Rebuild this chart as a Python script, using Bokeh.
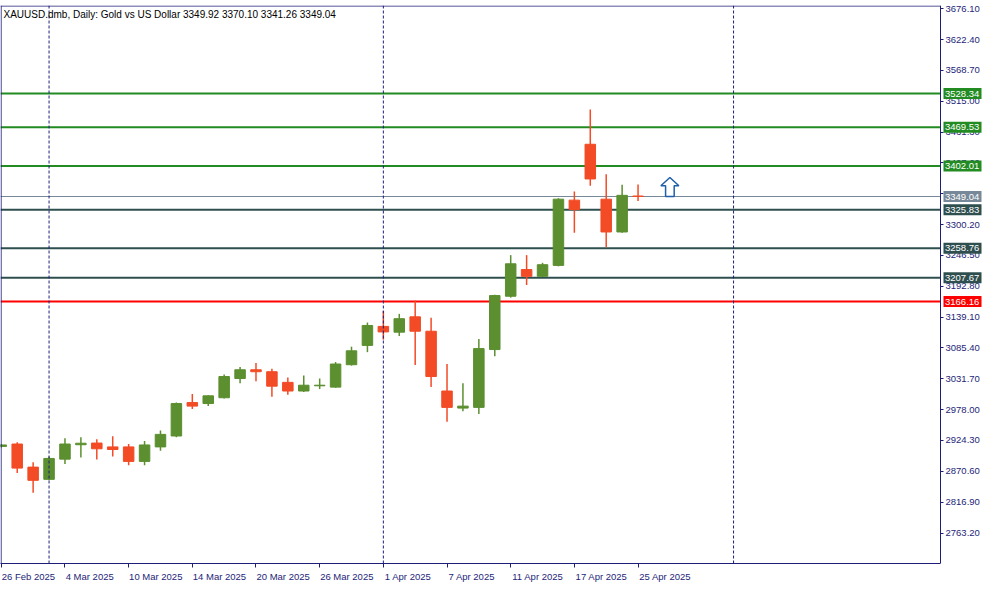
from bokeh.plotting import figure
from bokeh.models import (Range1d, FixedTicker, Span, Label, ColumnDataSource, LinearAxis,
                          NumeralTickFormatter, CustomJSTickFormatter)
from bokeh.core.properties import value
from bokeh.embed import file_html
from bokeh.resources import INLINE

# ---------------- data ----------------
title_text = "XAUUSD.dmb, Daily:  Gold vs US Dollar  3349.92 3370.10 3341.26 3349.04"

opens = [2914.0, 2918.1, 2877.9, 2856.6, 2891.8, 2916.9, 2919.8, 2913.1, 2913.1, 2887.9,
         2913.1, 2932.1, 2990.3, 2988.6, 2998.7, 3032.2, 3047.4, 3044.0, 3025.5, 3010.4,
         3019.5, 3017.2, 3056.2, 3089.8, 3122.9, 3112.8, 3139.6, 3114.5, 3010.4, 2980.7,
         2981.9, 3082.6, 3175.4, 3221.9, 3210.1, 3229.1, 3342.7, 3440.0, 3344.4, 3287.3,
         3349.92]
highs = [2918.0, 2921.0, 2886.3, 2896.4, 2928.2, 2929.9, 2926.5, 2931.6, 2918.1, 2923.2,
         2941.6, 2990.3, 3005.4, 3003.0, 3039.0, 3052.4, 3059.1, 3049.0, 3033.9, 3037.3,
         3032.2, 3060.8, 3087.6, 3129.6, 3149.7, 3144.7, 3168.2, 3138.0, 3057.4, 3023.9,
         3101.0, 3178.0, 3247.0, 3247.0, 3233.6, 3346.0, 3357.8, 3500.4, 3388.0, 3369.5,
         3370.10]
lows = [2912.0, 2867.8, 2833.1, 2855.0, 2883.4, 2894.7, 2891.3, 2896.3, 2881.2, 2881.2,
        2906.4, 2930.0, 2979.1, 2984.1, 2997.5, 3023.9, 3027.2, 3000.4, 3003.7, 3008.7,
        3013.8, 3016.0, 3054.6, 3078.1, 3099.9, 3106.1, 3055.7, 3017.2, 2957.0, 2975.2,
        2970.2, 3070.8, 3173.0, 3195.0, 3209.0, 3227.5, 3286.1, 3367.9, 3260.5, 3286.0,
        3341.26]
closes = [2916.5, 2876.2, 2854.9, 2893.0, 2918.1, 2919.5, 2909.8, 2908.6, 2887.9, 2916.5,
          2934.9, 2988.6, 2984.1, 3002.0, 3035.6, 3047.4, 3044.0, 3018.8, 3010.4, 3020.5,
          3020.5, 3057.4, 3080.4, 3124.5, 3113.3, 3136.3, 3114.5, 3035.6, 2981.9, 2984.1,
          3084.3, 3176.6, 3231.9, 3210.1, 3230.3, 3344.4, 3326.4, 3379.6, 3287.3, 3351.1,
          3349.04]

date_tick_index = [0, 4, 8, 12, 16, 20, 24, 28, 32, 36, 40]
date_tick_labels = ["26 Feb 2025", "4 Mar 2025", "10 Mar 2025", "14 Mar 2025", "20 Mar 2025",
                    "26 Mar 2025", "1 Apr 2025", "7 Apr 2025", "11 Apr 2025", "17 Apr 2025",
                    "25 Apr 2025"]

price_ticks = [3676.10, 3622.40, 3568.70, 3515.00, 3461.30, 3407.60, 3353.90, 3300.20, 3246.50,
               3192.80, 3139.10, 3085.40, 3031.70, 2978.00, 2924.30, 2870.60, 2816.90, 2763.20]

resistance_levels = [3528.34, 3469.53, 3402.01]
support_levels = [3325.83, 3258.76, 3207.67]
key_level = 3166.16
bid_price = 3349.04

period_separators = [3, 24, 46]
arrow_index = 42
arrow_price = 3349.04

# ---------------- style / layout ----------------
FONT = "Liberation Sans"
FSIZE = "9.5px"
NAVY = "#1E1E78"
UP = "#5B8F2F"
DOWN = "#F24B26"
RES_COLOR = "#228B22"
SUP_COLOR = "#2F4F4F"
KEY_COLOR = "#FF0000"
BID_COLOR = "#778899"
ARROW_COLOR = "#1F5FAA"

CHART_W = 940          # width of the candle area in px
FRAME_W, FRAME_H = 984, 558
X0, X1 = -0.05, 59.0   # bar-index span of the candle area
Y0, Y1 = 2710.1, 3681.6
px_per_bar = CHART_W / (X1 - X0)
price_per_px = (Y1 - Y0) / FRAME_H
X_END = X0 + FRAME_W / px_per_bar
EDGE = X1              # right edge of the candle area = price axis position

p = figure(frame_width=FRAME_W, frame_height=FRAME_H,
           x_range=Range1d(X0, X_END), y_range=Range1d(Y0, Y1),
           output_backend="svg", toolbar_location=None,
           x_axis_location="below", y_axis_location=None,
           min_border_left=0, min_border_top=5, min_border_right=0, min_border_bottom=0)
p.background_fill_color = "white"
p.border_fill_color = "white"
p.outline_line_color = None
p.xgrid.visible = False
p.ygrid.visible = False

# price axis, fixed at the right edge of the candle area
ya = LinearAxis(fixed_location=EDGE,
                ticker=FixedTicker(ticks=price_ticks, minor_ticks=[]),
                formatter=NumeralTickFormatter(format="0.00"))
ya.axis_line_color = NAVY
ya.major_tick_line_color = NAVY
ya.major_tick_out = 3
ya.major_tick_in = 0
ya.minor_tick_out = 0
ya.minor_tick_in = 0
ya.major_label_standoff = 2
ya.major_label_text_color = NAVY
ya.major_label_text_font = FONT
ya.major_label_text_font_size = FSIZE
p.add_layout(ya, "right")

# bottom time axis: labels start at their tick (label centre shifted by half its width)
char_w = 4.75
label_centres = [i + (len(t) * char_w / 2 + 1) / px_per_bar for i, t in zip(date_tick_index, date_tick_labels)]
xa = p.xaxis[0]
xa.bounds = (X0, EDGE)
xa.ticker = FixedTicker(ticks=label_centres, minor_ticks=date_tick_index)
xa.formatter = CustomJSTickFormatter(args=dict(labels=date_tick_labels), code="return labels[index];")
xa.axis_line_color = NAVY
xa.major_tick_out = 0
xa.major_tick_in = 0
xa.minor_tick_out = 4
xa.minor_tick_in = 0
xa.minor_tick_line_color = NAVY
xa.major_label_standoff = 3
xa.major_label_text_color = NAVY
xa.major_label_text_font = FONT
xa.major_label_text_font_size = FSIZE

# chart border (left and top)
p.add_layout(Span(location=X0 + 0.6 / px_per_bar, dimension="height", line_color=NAVY, line_width=1))
p.segment(x0=[X0], x1=[EDGE], y0=[Y1 - 0.5 * price_per_px], y1=[Y1 - 0.5 * price_per_px],
          line_color=NAVY, line_width=1)

# period separators
for s in period_separators:
    p.add_layout(Span(location=s, dimension="height", line_color=NAVY, line_width=1, line_dash="3 2"))

# horizontal levels (stop at the price axis)
levels = resistance_levels + support_levels + [key_level]
level_colors = [RES_COLOR] * len(resistance_levels) + [SUP_COLOR] * len(support_levels) + [KEY_COLOR]
lev_src = ColumnDataSource(dict(y=levels, x0=[X0] * len(levels), x1=[EDGE] * len(levels), color=level_colors))
p.segment(x0="x0", x1="x1", y0="y", y1="y", line_color="color", line_width=2, source=lev_src)
p.segment(x0=[X0], x1=[EDGE], y0=[bid_price], y1=[bid_price], line_color=BID_COLOR, line_width=1)

# candles
idx = list(range(len(opens)))
colors = [UP if c >= o else DOWN for o, c in zip(opens, closes)]
tops = [max(o, c) for o, c in zip(opens, closes)]
bottoms = [min(o, c) for o, c in zip(opens, closes)]
src = ColumnDataSource(dict(x=idx, high=highs, low=lows, top=tops, bottom=bottoms, color=colors))
p.segment(x0="x", y0="low", x1="x", y1="high", color="color", line_width=1.5, source=src)
p.vbar(x="x", top="top", bottom="bottom", width=10.5 / px_per_bar, fill_color="color",
       line_color="color", line_width=1, source=src)

# arrow object (outline up-arrow), shape given in pixels around its anchor
shape_px = [(-4.3, 0), (-4.3, 10.7), (-9, 10.7), (0, 19), (9, 10.7), (4.3, 10.7), (4.3, 0)]
ax = [arrow_index + dx / px_per_bar for dx, dy in shape_px]
ay = [arrow_price + dy * price_per_px for dx, dy in shape_px]
p.patch(ax, ay, fill_color="white", line_color=ARROW_COLOR, line_width=1.5)

# price tags on the axis (drawn above the axis labels)
tag_vals = levels + [bid_price]
tag_cols = level_colors + [BID_COLOR]
tag_src = ColumnDataSource(dict(y=tag_vals, color=tag_cols, text=[f"{v:.2f}" for v in tag_vals],
                                xc=[EDGE + 22 / px_per_bar] * len(tag_vals),
                                xt=[EDGE + 4.5 / px_per_bar] * len(tag_vals)))
r1 = p.rect(x="xc", y="y", width=38, height=11, width_units="screen", height_units="screen",
            fill_color="color", line_color=None, source=tag_src)
r2 = p.text(x="xt", y="y", text="text", text_color="white", text_font=value(FONT),
            text_font_size=value(FSIZE), text_baseline="middle", text_align="left", source=tag_src)
r1.level = "overlay"
r2.level = "overlay"

# chart caption
p.add_layout(Label(x=3, y=FRAME_H - 3, x_units="screen", y_units="screen", text=title_text,
                   text_color="black", text_font=FONT, text_font_size="10px",
                   text_baseline="top", text_align="left"))

open("out.html", "w").write(file_html(p, INLINE))
